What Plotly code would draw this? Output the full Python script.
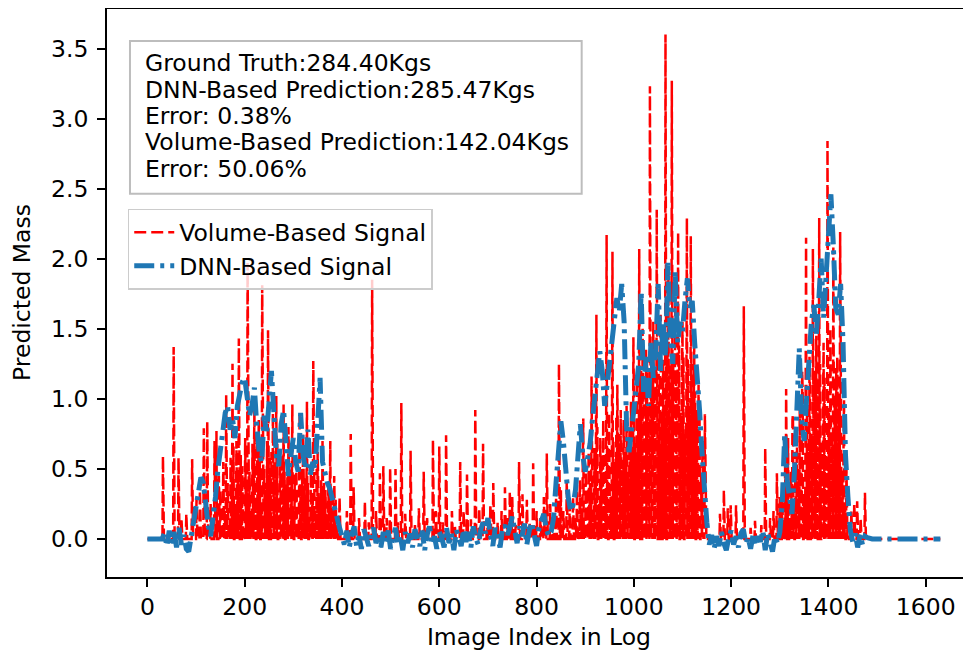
import numpy as np
import plotly.graph_objects as go

# ---------------- data ----------------
# DNN-based signal, sampled every 5 image indices starting at index 0
dnn_step = 5
dnn_signal = [
    0, 0, 0, 0, 0, 0, 0, 0.04, -0.05, 0.06,                      # 0-45
    -0.03, 0.05, -0.06, 0.08, -0.04, 0.03, -0.07, -0.09, 0.02, 0.08,  # 50-95
    0.22, 0.34, 0.44, 0.40, 0.22, 0.10, 0.02, 0.15, 0.30, 0.50,   # 100-145
    0.62, 0.78, 0.90, 0.95, 0.78, 0.86, 0.72, 0.95, 1.05, 1.12,   # 150-195
    1.15, 1.02, 0.88, 0.95, 1.08, 0.80, 0.62, 0.55, 0.88, 0.75,   # 200-245
    0.95, 1.20, 0.90, 0.60, 0.52, 0.82, 0.92, 0.68, 0.45, 0.60,   # 250-295
    0.72, 0.55, 0.48, 0.90, 0.60, 0.50, 0.78, 0.46, 0.55, 0.50,   # 300-345
    0.80, 1.15, 0.55, 0.45, 0.40, 0.36, 0.30, 0.22, 0.15, 0.08,   # 350-395
    0.02, -0.04, 0.06, -0.06, 0.03, 0.09, -0.05, 0.02, -0.07, 0.07,   # 400-445
    0.01, -0.05, 0.04, 0.08, -0.03, 0.02, -0.06, 0.05, -0.02, 0.06,   # 450-495
    -0.07, 0.03, 0.08, -0.04, 0.02, -0.08, 0.05, -0.03, 0.04, -0.06,  # 500-545
    0.07, 0.00, -0.05, 0.06, -0.08, 0.03, 0.09, -0.04, 0.02, -0.07,   # 550-595
    0.05, 0.01, -0.06, 0.08, -0.03, 0.04, -0.08, 0.06, 0.02, -0.05,   # 600-645
    0.07, -0.02, 0.05, -0.06, 0.09, 0.01, -0.04, 0.06, 0.12, 0.04,    # 650-695
    0.15, 0.03, -0.05, 0.08, 0.02, -0.06, 0.07, 0.10, 0.03, 0.08,     # 700-745
    0.16, 0.05, -0.03, 0.09, 0.02, 0.11, -0.04, 0.06, 0.12, 0.03,     # 750-795
    -0.05, 0.08, 0.14, 0.18, 0.07, 0.02, 0.05, 0.15, 0.40, 0.62,      # 800-845
    0.84, 0.70, 0.48, 0.30, 0.20, 0.24, 0.35, 0.55, 0.82, 0.60,       # 850-895
    0.48, 0.58, 0.68, 0.86, 1.00, 1.15, 1.34, 1.20, 0.95, 1.10,       # 900-945
    1.25, 1.44, 1.55, 1.72, 1.62, 1.82, 1.55, 0.80, 0.62, 0.75,       # 950-995
    0.92, 1.08, 1.25, 1.77, 1.05, 1.30, 0.95, 1.40, 1.15, 1.35,       # 1000-1045
    1.82, 1.20, 1.55, 1.30, 1.97, 1.45, 1.25, 1.91, 1.40, 1.55,       # 1050-1095
    1.48, 1.70, 1.86, 1.65, 1.70, 1.40, 1.20, 0.92, 0.62, 0.35,       # 1100-1145
    0.12, -0.04, 0.03, -0.07, 0.02, -0.05, 0.05, -0.03, -0.08, 0.01,  # 1150-1195
    0.06, -0.04, 0.02, -0.06, 0.04, 0.07, -0.03, 0.01, -0.07, 0.03,   # 1200-1245
    -0.05, 0.02, -0.02, 0.06, -0.08, 0.04, -0.04, -0.09, 0.02, -0.03, # 1250-1295
    0.05, 0.25, 0.75, 0.42, 0.30, 0.18, 0.48, 1.00, 1.36, 0.85,       # 1300-1345
    0.70, 1.00, 1.30, 1.55, 1.67, 1.45, 1.70, 2.00, 1.58, 1.85,       # 1350-1395
    2.10, 2.46, 2.10, 1.65, 1.60, 1.82, 1.40, 0.60, 0.30, 0.06,       # 1400-1445
    -0.02, 0.04, -0.06, 0.03, -0.04, 0.02, 0.01, 0, 0, 0,             # 1450-1495
    0, 0, 0, 0, 0, 0, 0, 0, 0, 0,                                     # 1500-1545
    0, 0, 0, 0, 0, 0, 0, 0, 0, 0,                                     # 1550-1595
    0, 0, 0, 0, 0, 0, 0,                                              # 1600-1630
]

# Volume-based signal: last image index of the log
vol_last_index = 1630
vol_dense_step = 3
# dense bursts (value every 3 indices)
vol_dense_a_start = 150
vol_dense_a = [
    0.35, 0.0, 0.55, 0.20, 0.62, 0.40, 0.10, 0.58, 0.30, 0.66,
    0.25, 0.70, 0.45, 0.15, 0.60, 0.52, 0.08, 0.72, 0.38, 0.64,
    0.48, 0.20, 0.68, 0.55, 0.30, 0.75, 0.42, 0.60, 0.18, 0.66,
    0.50, 0.35, 0.70, 0.22, 0.58, 0.62, 0.12, 0.55, 0.45, 0.68,
    0.30, 0.52, 0.60, 0.15, 0.48, 0.40, 0.58, 0.26, 0.50, 0.44,
    0.20, 0.46, 0.55, 0.10, 0.42, 0.38, 0.50, 0.28, 0.45, 0.35,
    0.40, 0.15, 0.48, 0.32, 0.44, 0.20, 0.50, 0.38, 0.30, 0.42,
    0.25, 0.40, 0.35, 0.18, 0.38, 0.30, 0.22, 0.35, 0.15, 0.28,
    0.10,
]
vol_dense_b_start = 880
vol_dense_b = [
    0.15, 0.35, 0.05, 0.42, 0.22, 0.55, 0.10, 0.48, 0.30, 0.62,
    0.40, 0.70, 0.18, 0.65, 0.52, 0.80, 0.25, 0.72, 0.60, 0.85,
    0.35, 0.78, 0.66, 0.90, 0.30, 0.82, 0.70, 0.55, 0.88, 0.40,
    0.75, 0.92, 0.50, 0.85, 0.62, 0.95, 0.45, 0.80, 0.98, 0.58,
    1.05, 0.70, 1.12, 0.85, 0.55, 1.20, 0.95, 1.10, 0.65, 1.25,
    0.90, 1.15, 1.30, 0.75, 1.08, 1.22, 0.60, 1.18, 1.35, 0.88,
    1.28, 0.95, 1.15, 1.40, 0.70, 1.25, 1.10, 1.32, 0.82, 1.20,
    1.05, 1.38, 0.90, 1.22, 1.30, 0.75, 1.15, 1.28, 0.95, 1.10,
    1.25, 0.80, 1.05, 0.92, 0.60, 0.85, 0.45, 0.70, 0.30, 0.55,
    0.0,
]
vol_dense_c_start = 1305
vol_dense_c = [
    0.30, 0.08, 0.55, 0.20, 0.72, 0.15, 0.48, 0.85, 0.25, 0.62,
    0.78, 0.40, 0.92, 0.55, 1.05, 0.30, 0.88, 1.00, 0.62, 1.10,
    0.75, 0.95, 1.20, 0.50, 1.08, 0.85, 1.25, 0.68, 1.02, 1.15,
    0.60, 1.12, 0.90, 1.30, 0.72, 1.05, 0.95, 1.22, 0.55, 1.00,
    0.80, 0.45, 0.70, 0.25, 0.50, 0.10,
]
# isolated spikes (image index, predicted mass)
vol_spike_idx = [
    32, 54, 64, 70, 80, 92, 101, 108, 116, 123, 130, 138, 142, 147, 162, 175, 188,
    206, 220, 229, 236, 248, 258, 265, 280, 290, 298, 313, 320, 328, 341, 350, 360,
    376, 384, 395, 410, 418, 424, 435, 447, 455, 462, 470, 478, 485, 492, 499, 510,
    515, 522, 530, 541, 550, 558, 568, 575, 587, 593, 600, 607, 614, 626, 632, 643,
    650, 657, 665, 674, 682, 690, 698, 705, 711, 720, 728, 735, 740, 745, 750, 757,
    764, 771, 780, 786, 793, 800, 808, 815, 821, 828, 835, 840, 846, 850, 855, 862,
    868, 875,
    896, 913, 923, 944, 956, 966, 999, 1011, 1018, 1025, 1033, 1040, 1047, 1055,
    1065, 1071, 1078, 1085, 1091, 1100, 1109, 1117, 1124, 1133, 1146,
    1177, 1185, 1193, 1199, 1210, 1226, 1240, 1249, 1262, 1270, 1280, 1287, 1294, 1300,
    1313, 1327, 1338, 1346, 1354, 1361, 1368, 1375, 1381, 1390, 1398, 1404, 1410,
    1418, 1424, 1432, 1447, 1453, 1459, 1466, 1475,
]
vol_spike_val = [
    0.59, 1.37, 0.58, 0.15, 0.18, 0.57, 0.29, 0.35, 0.79, 0.84, 0.25, 0.70, 0.77, 0.45, 1.03, 1.25, 1.43,
    1.97, 0.92, 0.85, 1.81, 1.49, 0.90, 1.02, 0.96, 0.80, 0.96, 0.89, 0.75, 0.98, 1.27, 0.62, 0.70,
    0.70, 0.45, 0.30, 0.20, 0.75, 0.37, 0.15, 0.27, 0.12, 1.85, 0.20, 0.47, 0.52, 0.15, 0.51, 0.50,
    0.12, 0.97, 0.18, 0.63, 0.10, 0.22, 0.48, 0.15, 0.71, 0.20, 0.66, 0.12, 0.74, 0.20, 0.10, 0.55,
    0.20, 0.46, 0.14, 0.92, 0.22, 0.68, 0.15, 0.25, 0.40, 0.12, 0.20, 0.37, 0.15, 0.34, 0.30, 0.10,
    0.55, 0.32, 0.28, 0.12, 0.54, 0.20, 0.15, 0.30, 0.61, 0.25, 0.18, 0.30, 1.25, 0.35, 0.20, 0.41,
    0.25, 0.30,
    0.86, 1.16, 1.60, 2.17, 2.05, 1.10, 1.44, 2.07, 1.50, 1.35, 3.23, 1.55, 2.35, 1.60,
    3.60, 1.90, 3.27, 1.70, 2.19, 1.55, 2.29, 2.16, 1.46, 1.10, 0.89,
    0.18, 0.35, 0.22, 0.24, 0.24, 1.66, 0.08, 0.13, 0.10, 0.65, 0.15, 0.20, 0.47, 0.30,
    1.07, 0.89, 0.50, 1.20, 2.15, 1.30, 2.07, 1.45, 2.29, 1.40, 2.84, 1.50, 2.08,
    1.30, 2.19, 1.00, 0.20, 0.26, 0.27, 0.15, 0.33,
]

x_ticks = [0, 200, 400, 600, 800, 1000, 1200, 1400, 1600]
y_ticks = [0.0, 0.5, 1.0, 1.5, 2.0, 2.5, 3.0, 3.5]

info_lines = [
    "Ground Truth:284.40Kgs",
    "DNN-Based Prediction:285.47Kgs",
    "Error: 0.38%",
    "Volume-Based Prediction:142.04Kgs",
    "Error: 50.06%",
]

# ---------------- build series ----------------
vol = np.zeros(vol_last_index + 1)
for start, vals in ((vol_dense_a_start, vol_dense_a),
                    (vol_dense_b_start, vol_dense_b),
                    (vol_dense_c_start, vol_dense_c)):
    for k, v in enumerate(vals):
        vol[start + k * vol_dense_step] = v
for i, v in zip(vol_spike_idx, vol_spike_val):
    vol[i] = max(vol[i], v)
vol_x = np.arange(vol_last_index + 1)

dnn_x = np.arange(len(dnn_signal)) * dnn_step
dnn_y = np.array(dnn_signal)

FONT = "DejaVu Sans"
FS = 23.5

fig = go.Figure()
fig.add_trace(go.Scatter(
    x=vol_x, y=vol, mode="lines", name="Volume-Based Signal",
    line=dict(color="#ff0000", width=2.5, dash="12px,5px"),
))
fig.add_trace(go.Scatter(
    x=dnn_x, y=dnn_y, mode="lines", name="DNN-Based Signal",
    line=dict(color="#1f77b4", width=5, dash="20px,6px,4px,6px"),
))

axis_common = dict(
    showgrid=False, zeroline=False, showline=True, linecolor="black", linewidth=1.9,
    ticks="outside", ticklen=8, tickwidth=1.9, tickcolor="black", automargin=False,
    tickfont=dict(family=FONT, size=FS, color="black"), mirror=False,
)
fig.update_xaxes(range=[-83, 1693], tickvals=x_ticks, ticktext=[str(v) for v in x_ticks],
                 ticklabelstandoff=0,
                 title=dict(text="Image Index in Log", font=dict(family=FONT, size=FS, color="black"), standoff=8),
                 **axis_common)
fig.update_yaxes(range=[-0.271, 3.789], tickvals=y_ticks, ticktext=[f"{v:.1f}" for v in y_ticks],
                 ticklabelstandoff=4,
                 title=dict(text="Predicted Mass", font=dict(family=FONT, size=FS, color="black"), standoff=15),
                 **axis_common)

# top spine
fig.add_shape(type="line", xref="paper", yref="paper", x0=0, x1=1, y0=1, y1=1,
              line=dict(color="black", width=1.9))
# info box
fig.add_shape(type="rect", xref="paper", yref="paper", x0=0.0266, x1=0.5494, y0=0.6736, y1=0.942,
              line=dict(color="#bdbdbd", width=2), fillcolor="white", layer="above")
line_y = [0.9033, 0.8564, 0.8107, 0.7640, 0.7170]
for txt, yy in zip(info_lines, line_y):
    fig.add_annotation(text=txt, xref="paper", yref="paper", x=0.0417, y=yy,
                       xanchor="left", yanchor="middle", showarrow=False,
                       font=dict(family=FONT, size=FS, color="black"))

# the page body adds an 8px offset, so the figure is 8px smaller than the window
fig.update_layout(
    width=963, height=650,
    margin=dict(l=99, r=0, t=0, b=81, autoexpand=False),
    paper_bgcolor="white", plot_bgcolor="white",
    font=dict(family=FONT, size=FS, color="black"),
    legend=dict(x=0.024, y=0.647, xanchor="left", yanchor="top", itemwidth=40,
                bgcolor="rgba(255,255,255,0.8)", bordercolor="#cccccc", borderwidth=1.5,
                font=dict(family=FONT, size=FS, color="black")),
)

fig.write_html("out.html")
